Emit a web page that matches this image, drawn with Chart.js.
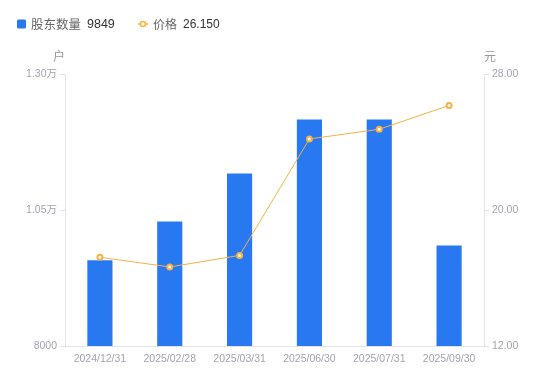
<!DOCTYPE html>
<html><head><meta charset="utf-8">
<script src="https://cdn.jsdelivr.net/npm/chart.js@4"></script>
<style>html,body{margin:0;padding:0;background:#fff;}#wrap{width:550px;height:381px;position:relative;}</style>
</head><body><div id="wrap"><canvas id="c" width="550" height="381"></canvas></div>
<script>
const categories = ['2024/12/31','2025/02/28','2025/03/31','2025/06/30','2025/07/31','2025/09/30'];
const holders = [9575, 10290, 11172, 12165, 12165, 9849];
const prices = [17.22, 16.65, 17.33, 24.18, 24.75, 26.15];
const leftTicks = [8000, 10500, 13000];
const rightTicks = [12, 20, 28];
const seriesNames = ['股东数量', '价格'];
const units = ['户', '元'];

const FONT = '"Liberation Sans", Arial, "Noto Sans CJK SC", sans-serif';
const BLUE = '#2878f2';
const ORANGE = '#f6b244';

const overlay = {
  id: 'overlay',
  afterDraw(chart) {
    const ctx = chart.ctx;
    const area = chart.chartArea;
    ctx.save();
    ctx.textBaseline = 'middle';
    // legend
    const ly = 24;
    ctx.font = '12.5px ' + FONT;
    let x = 17;
    ctx.fillStyle = BLUE;
    ctx.beginPath();
    if (ctx.roundRect) ctx.roundRect(x, ly - 4.5, 9, 9, 1.5); else ctx.rect(x, ly - 4.5, 9, 9);
    ctx.fill();
    x += 14;
    ctx.textAlign = 'left';
    ctx.fillStyle = '#666';
    ctx.fillText(seriesNames[0], x, ly + 1.5);
    x += ctx.measureText(seriesNames[0]).width + 6;
    ctx.fillStyle = '#333';
    const v1 = String(holders[holders.length - 1]);
    ctx.fillText(v1, x, ly + 1);
    x = 138;
    // line icon
    ctx.strokeStyle = ORANGE;
    ctx.lineWidth = 1.5;
    ctx.beginPath(); ctx.moveTo(x, ly); ctx.lineTo(x + 10, ly); ctx.stroke();
    ctx.fillStyle = '#fff';
    ctx.beginPath(); ctx.arc(x + 5, ly, 2.5, 0, Math.PI * 2); ctx.fill(); ctx.stroke();
    x += 15;
    ctx.font = '12px ' + FONT;
    ctx.fillStyle = '#666';
    ctx.fillText(seriesNames[1], x, ly + 1.5);
    x += ctx.measureText(seriesNames[1]).width + 6;
    ctx.fillStyle = '#333';
    ctx.fillText(prices[prices.length - 1].toFixed(3), x, ly + 1);
    // units
    ctx.font = '12px ' + FONT;
    ctx.fillStyle = '#999';
    ctx.textAlign = 'center';
    ctx.fillText(units[0], area.left - 6, 58);
    ctx.fillText(units[1], area.right + 6, 58);
    ctx.restore();
  }
};

function fmtLeft(v) {
  if (v >= 10000) return (v / 10000).toFixed(2) + '万';
  return String(v);
}

new Chart(document.getElementById('c'), {
  data: {
    labels: categories,
    datasets: [
      {
        type: 'line', label: seriesNames[1], data: prices, yAxisID: 'y1', order: 0,
        borderColor: ORANGE, borderWidth: 1, backgroundColor: '#fff',
        pointRadius: 2.5, pointBorderWidth: 2, pointBorderColor: ORANGE, pointBackgroundColor: '#fff',
        tension: 0
      },
      {
        type: 'bar', label: seriesNames[0], data: holders, yAxisID: 'y', order: 1,
        backgroundColor: BLUE, barPercentage: 0.36, categoryPercentage: 1
      }
    ]
  },
  options: {
    responsive: false, animation: false,
    layout: { padding: { top: 74, left: 0, right: 0, bottom: 0 } },
    plugins: { legend: { display: false }, tooltip: { enabled: false } },
    scales: {
      x: {
        grid: { display: false, drawTicks: false },
        border: { display: true, color: '#e3e3e8', width: 1 },
        ticks: { color: '#a3a3b0', font: { size: 10.5, family: FONT }, padding: 7, maxRotation: 0, autoSkip: false },
        afterFit(s) { s.height = 35; }
      },
      y: {
        position: 'left', min: 8000, max: 13000,
        afterBuildTicks(s) { s.ticks = leftTicks.map(v => ({ value: v })); },
        grid: { drawOnChartArea: false, drawTicks: true, tickLength: 5, color: '#e3e3e8' },
        border: { display: true, color: '#e3e3e8' },
        ticks: { color: '#a3a3b0', font: { size: 10.5, family: FONT }, padding: 3, callback: fmtLeft },
        afterFit(s) { s.width = 65; }
      },
      y1: {
        position: 'right', min: 12, max: 28,
        afterBuildTicks(s) { s.ticks = rightTicks.map(v => ({ value: v })); },
        grid: { drawOnChartArea: false, drawTicks: true, tickLength: 5, color: '#e3e3e8' },
        border: { display: true, color: '#e3e3e8' },
        ticks: { color: '#a3a3b0', font: { size: 10.5, family: FONT }, padding: 3, callback: v => Number(v).toFixed(2) },
        afterFit(s) { s.width = 66; }
      }
    }
  },
  plugins: [overlay]
});
</script></body></html>
